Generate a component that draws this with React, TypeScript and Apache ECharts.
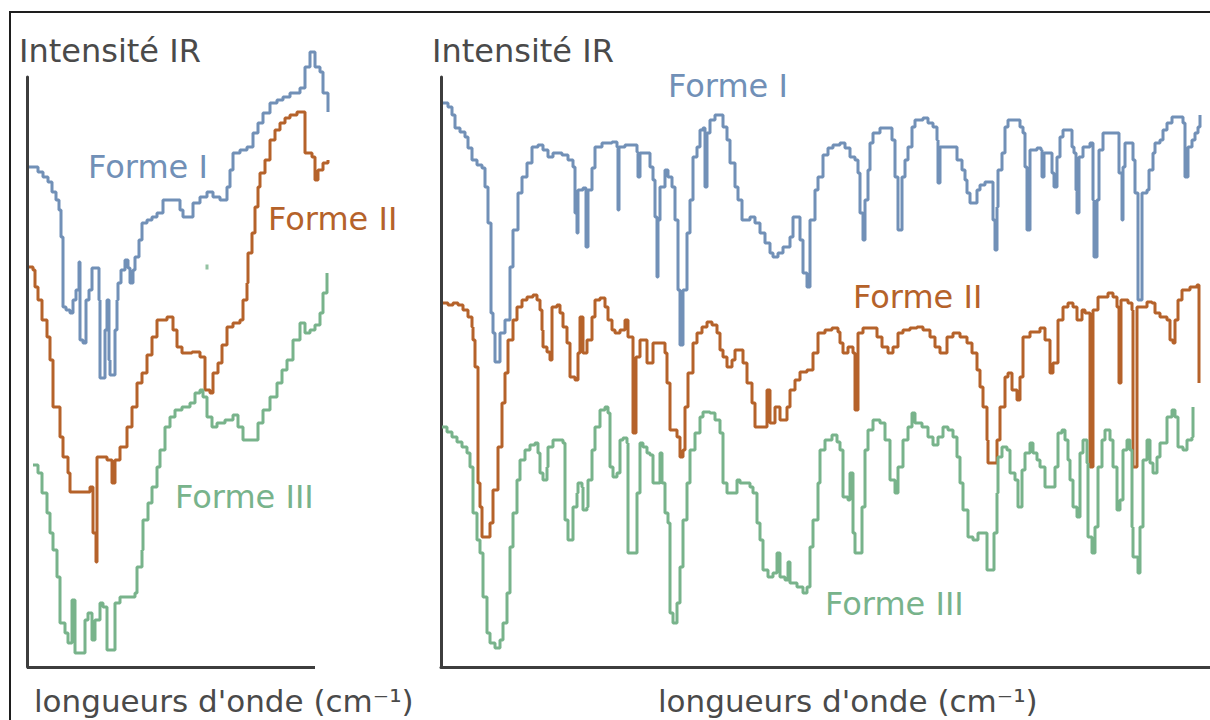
import React, { useEffect, useRef } from "react";
import * as echarts from "echarts";

// Noms des séries et couleurs
const formes = ["Forme I", "Forme II", "Forme III"];
const couleurs = ["#7190b7", "#b5622a", "#78b38b"];
const titreY = "Intensité IR";
const titreX = "longueurs d'onde (cm⁻¹)";

// Longueur de l'axe des abscisses du panneau gauche (les spectres le dépassent)
const leftAxisEnd = 288;

// Panneau gauche : [nombre d'onde (u.a.), intensité (u.a.)]
const leftFormeI: [number, number][] = [
  [2, 500], [7, 500], [11, 495], [16, 490], [21, 485], [25, 475], [29, 467], [32, 457], [34, 430], [36, 360],
  [39, 357], [43, 354], [46, 367], [49, 377], [52, 405], [53, 327], [56, 324], [59, 367], [62, 377], [65, 399],
  [70, 399], [72, 367], [73, 289], [76, 289], [78, 337], [80, 367], [82, 307], [83, 292], [86, 292], [88, 337],
  [90, 367], [91, 384], [94, 397], [98, 407], [101, 399], [103, 384], [106, 397], [108, 410], [112, 427], [115, 444],
  [120, 447], [125, 450], [130, 454], [136, 467], [148, 467], [153, 457], [156, 450], [160, 450], [166, 464], [173, 470],
  [180, 475], [186, 470], [193, 467], [200, 480], [203, 497], [206, 514], [213, 517], [220, 520], [226, 534], [231, 544],
  [236, 554], [243, 564], [250, 567], [256, 570], [263, 574], [273, 579], [278, 600], [283, 615], [288, 600], [293, 595],
  [296, 574], [301, 555],
];
const leftFormeII: [number, number][] = [
  [2, 400], [6, 397], [8, 380], [11, 367], [15, 347], [20, 330], [23, 307], [26, 260], [33, 230], [36, 210],
  [41, 194], [43, 175], [53, 175], [63, 180], [66, 134], [69, 105], [70, 210], [75, 210], [80, 207], [85, 184],
  [88, 207], [93, 220], [100, 240], [105, 260], [110, 284], [115, 294], [120, 312], [125, 330], [130, 347], [140, 350],
  [146, 337], [150, 320], [155, 314], [165, 315], [173, 310], [178, 277], [183, 274], [186, 294], [191, 304], [195, 322],
  [200, 340], [206, 344], [213, 347], [216, 367], [220, 384], [221, 414], [225, 434], [228, 460], [231, 480], [233, 494],
  [238, 507], [243, 527], [248, 537], [253, 544], [258, 549], [263, 552], [270, 555], [276, 555], [278, 514], [285, 510],
  [288, 487], [291, 497], [296, 504], [301, 507],
];
const leftFormeIII: [number, number][] = [
  [6, 202], [11, 194], [15, 174], [20, 154], [23, 134], [26, 117], [30, 90], [33, 44], [38, 34], [41, 24],
  [45, 67], [48, 14], [53, 14], [58, 47], [61, 54], [65, 27], [68, 47], [73, 64], [76, 60], [80, 17],
  [85, 17], [88, 64], [93, 70], [100, 70], [108, 74], [110, 100], [115, 117], [116, 147], [121, 164], [125, 180],
  [130, 200], [133, 217], [138, 240], [143, 250], [148, 257], [155, 260], [163, 264], [168, 274], [173, 277], [176, 270],
  [180, 250], [185, 240], [190, 244], [198, 247], [206, 252], [211, 240], [216, 227], [226, 227], [231, 244], [236, 257],
  [243, 270], [250, 284], [255, 297], [260, 307], [266, 327], [273, 344], [278, 334], [283, 337], [288, 342], [293, 354],
  [296, 374], [300, 394],
];
const leftStray: [number, number][] = [[180, 400]];

// Panneau droit
const rightFormeI: [number, number][] = [
  [2, 564], [7, 560], [11, 552], [14, 539], [19, 535], [24, 530], [27, 519], [31, 507], [36, 502], [41, 499],
  [44, 480], [47, 444], [50, 354], [52, 334], [54, 305], [57, 305], [59, 334], [64, 347], [69, 400], [72, 437],
  [77, 474], [81, 490], [86, 504], [91, 520], [97, 522], [102, 517], [107, 510], [112, 514], [121, 512], [127, 507],
  [132, 500], [134, 454], [136, 434], [137, 477], [142, 479], [145, 420], [147, 477], [151, 499], [154, 520], [161, 524],
  [166, 524], [171, 525], [176, 520], [177, 457], [178, 520], [184, 522], [192, 522], [196, 515], [197, 490], [199, 514],
  [204, 514], [209, 500], [212, 487], [214, 450], [216, 390], [217, 447], [219, 480], [224, 497], [227, 490], [231, 480],
  [234, 447], [237, 377], [239, 322], [242, 377], [246, 434], [249, 467], [252, 510], [256, 520], [259, 537], [262, 539],
  [264, 480], [266, 534], [269, 547], [274, 552], [279, 552], [282, 540], [286, 527], [289, 504], [294, 480], [297, 467],
  [301, 447], [309, 450], [314, 444], [319, 434], [324, 424], [329, 414], [332, 410], [337, 414], [342, 420], [349, 430],
  [352, 450], [356, 450], [359, 427], [362, 394], [366, 380], [369, 447], [374, 477], [377, 490], [382, 512], [387, 519],
  [392, 522], [399, 524], [404, 519], [409, 510], [414, 507], [417, 494], [419, 454], [422, 427], [424, 467], [427, 497],
  [429, 524], [432, 534], [439, 539], [446, 539], [451, 527], [454, 490], [457, 437], [461, 490], [464, 507], [467, 520],
  [471, 540], [474, 547], [482, 549], [487, 544], [492, 540], [496, 527], [497, 484], [499, 520], [506, 520], [512, 520],
  [516, 507], [521, 497], [524, 487], [526, 474], [529, 464], [532, 464], [536, 477], [539, 482], [544, 485], [549, 485],
  [552, 447], [554, 417], [556, 460], [557, 497], [561, 514], [564, 540], [567, 547], [574, 547], [579, 540], [582, 534],
  [584, 500], [586, 437], [589, 517], [596, 519], [600, 517], [601, 490], [603, 514], [607, 514], [611, 494], [613, 480],
  [616, 510], [619, 530], [622, 537], [627, 537], [631, 520], [633, 514], [635, 477], [636, 454], [638, 510], [642, 520],
  [646, 520], [649, 524], [652, 467], [653, 410], [656, 467], [658, 517], [662, 534], [676, 534], [678, 494], [681, 447],
  [682, 500], [684, 524], [689, 524], [692, 507], [694, 474], [697, 367], [701, 474], [706, 477], [708, 497], [712, 514],
  [714, 524], [719, 527], [722, 537], [726, 544], [731, 550], [739, 550], [742, 544], [744, 490], [747, 520], [751, 527],
  [754, 534], [757, 540], [759, 552],
];
const rightFormeII: [number, number][] = [
  [2, 364], [7, 362], [12, 364], [17, 362], [22, 357], [27, 350], [31, 340], [32, 327], [34, 300], [37, 184],
  [39, 160], [41, 130], [47, 130], [49, 144], [52, 177], [57, 220], [61, 264], [64, 294], [67, 327], [72, 347],
  [76, 360], [81, 367], [86, 370], [92, 372], [96, 367], [99, 357], [101, 337], [102, 320], [106, 315], [109, 307],
  [111, 327], [111, 360], [116, 362], [119, 354], [122, 340], [126, 324], [129, 290], [134, 287], [137, 314], [139, 350],
  [142, 314], [146, 327], [151, 350], [154, 367], [159, 369], [164, 360], [167, 347], [171, 337], [174, 334], [179, 337],
  [184, 347], [187, 330], [192, 234], [195, 310], [199, 327], [206, 304], [212, 324], [219, 324], [224, 314], [226, 284],
  [229, 237], [236, 230], [239, 210], [242, 217], [244, 260], [247, 294], [252, 324], [256, 334], [261, 340], [266, 345],
  [271, 342], [276, 334], [279, 317], [282, 310], [286, 300], [291, 307], [294, 317], [299, 317], [302, 304], [306, 284],
  [311, 264], [314, 240], [322, 240], [326, 277], [329, 244], [334, 260], [339, 247], [346, 260], [349, 277], [354, 287],
  [359, 295], [366, 297], [372, 314], [377, 334], [384, 337], [391, 339], [397, 335], [399, 324], [402, 314], [407, 320],
  [412, 314], [414, 257], [417, 257], [417, 334], [422, 339], [431, 339], [436, 330], [441, 320], [447, 314], [452, 320],
  [457, 334], [462, 337], [469, 339], [476, 340], [482, 337], [489, 330], [494, 320], [499, 314], [506, 330], [512, 334],
  [519, 330], [526, 324], [531, 314], [536, 297], [539, 280], [542, 260], [546, 227], [547, 204], [552, 204], [556, 227],
  [559, 260], [564, 290], [567, 294], [571, 277], [576, 267], [579, 290], [582, 330], [589, 335], [599, 339], [604, 327],
  [609, 294], [612, 304], [617, 347], [622, 360], [627, 364], [632, 360], [636, 347], [641, 357], [644, 354], [649, 200],
  [652, 357], [657, 370], [667, 374], [672, 370], [676, 360], [678, 284], [680, 367], [687, 364], [691, 357], [692, 200],
  [696, 360], [706, 365], [711, 364], [714, 354], [719, 350], [726, 347], [729, 327], [732, 324], [734, 347], [737, 367],
  [741, 377], [749, 380], [756, 382], [758, 284],
];
const rightFormeIII: [number, number][] = [
  [1, 240], [6, 235], [11, 230], [16, 225], [21, 220], [26, 214], [29, 200], [32, 154], [36, 127], [39, 114],
  [42, 70], [46, 34], [49, 24], [54, 19], [59, 27], [62, 44], [66, 74], [69, 120], [72, 154], [76, 187],
  [79, 207], [84, 217], [89, 222], [94, 224], [97, 214], [99, 194], [102, 187], [106, 200], [107, 220], [112, 227],
  [119, 227], [122, 224], [124, 147], [127, 127], [131, 127], [132, 160], [136, 174], [137, 184], [141, 180], [142, 157],
  [146, 160], [147, 187], [151, 217], [154, 240], [159, 257], [164, 260], [167, 254], [169, 200], [172, 190], [176, 194],
  [179, 227], [182, 229], [186, 224], [187, 114], [192, 114], [196, 174], [199, 224], [202, 220], [206, 214], [209, 212],
  [212, 184], [216, 184], [219, 214], [221, 184], [224, 154], [227, 144], [229, 54], [232, 44], [236, 64], [239, 100],
  [242, 147], [246, 184], [249, 217], [254, 234], [259, 250], [262, 255], [269, 254], [274, 247], [279, 234], [282, 184],
  [286, 174], [292, 174], [296, 187], [299, 184], [309, 180], [312, 174], [316, 144], [319, 127], [322, 97], [327, 90],
  [332, 94], [336, 114], [339, 90], [344, 87], [347, 105], [349, 84], [356, 80], [362, 74], [366, 80], [369, 120],
  [372, 147], [377, 184], [379, 217], [384, 227], [391, 232], [396, 225], [399, 217], [402, 170], [407, 167], [409, 194],
  [412, 134], [414, 114], [419, 114], [421, 160], [424, 217], [427, 237], [432, 247], [439, 244], [444, 227], [449, 187],
  [454, 174], [457, 200], [462, 227], [467, 240], [471, 254], [474, 244], [481, 240], [487, 230], [492, 222], [497, 230],
  [502, 240], [507, 237], [512, 230], [516, 210], [519, 184], [522, 157], [527, 130], [532, 127], [537, 134], [542, 134],
  [546, 97], [551, 97], [553, 134], [556, 174], [557, 210], [561, 220], [566, 217], [569, 194], [574, 187], [577, 160],
  [581, 197], [584, 214], [589, 224], [592, 214], [596, 207], [599, 200], [604, 180], [609, 180], [614, 200], [617, 234],
  [621, 237], [624, 227], [627, 207], [629, 187], [632, 160], [636, 150], [639, 214], [642, 227], [646, 204], [647, 130],
  [651, 114], [654, 140], [657, 200], [661, 227], [664, 237], [669, 227], [672, 200], [676, 157], [679, 167], [682, 217],
  [686, 227], [689, 217], [691, 140], [692, 110], [697, 94], [699, 140], [702, 207], [706, 227], [709, 204], [712, 194],
  [716, 210], [719, 224], [726, 250], [731, 257], [734, 250], [737, 220], [742, 217], [746, 227], [751, 230], [752, 260],
];

const AXIS_COLOR = "#3d3d3d";
const FONT = "DejaVu Sans";

function axisCommon(max: number, showLine = true) {
  return {
    type: "value" as const,
    min: 0,
    max,
    axisLine: { show: showLine, onZero: false, lineStyle: { color: AXIS_COLOR, width: 3 } },
    axisTick: { show: false },
    axisLabel: { show: false },
    splitLine: { show: false },
  };
}

function lineSeries(data: [number, number][], idx: number, color: string, name: string) {
  return {
    type: "line" as const,
    name,
    data,
    xAxisIndex: idx,
    yAxisIndex: idx,
    step: "end" as const,
    showSymbol: false,
    clip: false,
    lineStyle: { color, width: 3 },
    emphasis: { disabled: true },
    z: 3,
  };
}

function label(text: string, x: number, y: number, color: string, size = 32) {
  return {
    type: "text" as const,
    x,
    y,
    style: {
      text,
      fill: color,
      font: `${size}px '${FONT}'`,
      fontFamily: FONT,
      fontSize: size,
      verticalAlign: "middle",
      align: "left",
    },
    z: 10,
  };
}

export default function App() {
  const ref = useRef<HTMLDivElement>(null);
  useEffect(() => {
    if (!ref.current) return;
    const chart = echarts.init(ref.current, undefined, { renderer: "svg" });
    const leftMax = 303;
    chart.setOption({
      animation: false,
      backgroundColor: "#ffffff",
      grid: [
        { left: 27, top: 77, width: leftMax, height: 590 },
        { left: 441, top: 77, width: 769, height: 590 },
      ],
      xAxis: [
        { ...axisCommon(leftMax, false), gridIndex: 0 },
        { ...axisCommon(769), gridIndex: 1 },
      ],
      yAxis: [
        { ...axisCommon(590), gridIndex: 0 },
        { ...axisCommon(590), gridIndex: 1 },
      ],
      series: [
        {
          ...lineSeries(leftFormeI, 0, couleurs[0], formes[0]),
          markLine: {
            silent: true,
            symbol: "none",
            label: { show: false },
            lineStyle: { color: AXIS_COLOR, width: 3, type: "solid" },
            data: [[{ coord: [0, 0] }, { coord: [leftAxisEnd, 0] }]],
            z: 2,
          },
        },
        lineSeries(leftFormeII, 0, couleurs[1], formes[1]),
        lineSeries(leftFormeIII, 0, couleurs[2], formes[2]),
        {
          type: "scatter",
          data: leftStray,
          xAxisIndex: 0,
          yAxisIndex: 0,
          symbol: "rect",
          symbolSize: [3, 5],
          itemStyle: { color: couleurs[2] },
          silent: true,
        },
        lineSeries(rightFormeI, 1, couleurs[0], formes[0]),
        lineSeries(rightFormeII, 1, couleurs[1], formes[1]),
        lineSeries(rightFormeIII, 1, couleurs[2], formes[2]),
      ],
      graphic: [
        {
          type: "rect",
          shape: { x: 10, y: 12, width: 1220, height: 730 },
          style: { fill: "none", stroke: "#1e1e1e", lineWidth: 2 },
          z: 0,
          silent: true,
        },
        label(titreY, 19, 51, "#4a4a4a"),
        label(titreY, 432, 51, "#4a4a4a"),
        label(titreX, 34, 701, "#4a4a4a", 31),
        label(titreX, 658, 701, "#4a4a4a", 31),
        label(formes[0], 88, 167, couleurs[0]),
        label(formes[1], 268, 219, couleurs[1]),
        label(formes[2], 175, 497, couleurs[2]),
        label(formes[0], 668, 86, couleurs[0]),
        label(formes[1], 853, 297, couleurs[1]),
        label(formes[2], 825, 604, couleurs[2]),
      ],
    });
    return () => chart.dispose();
  }, []);
  return (
    <div
      ref={ref}
      style={{ position: "absolute", left: 0, top: 0, width: 1210, height: 720 }}
    />
  );
}
